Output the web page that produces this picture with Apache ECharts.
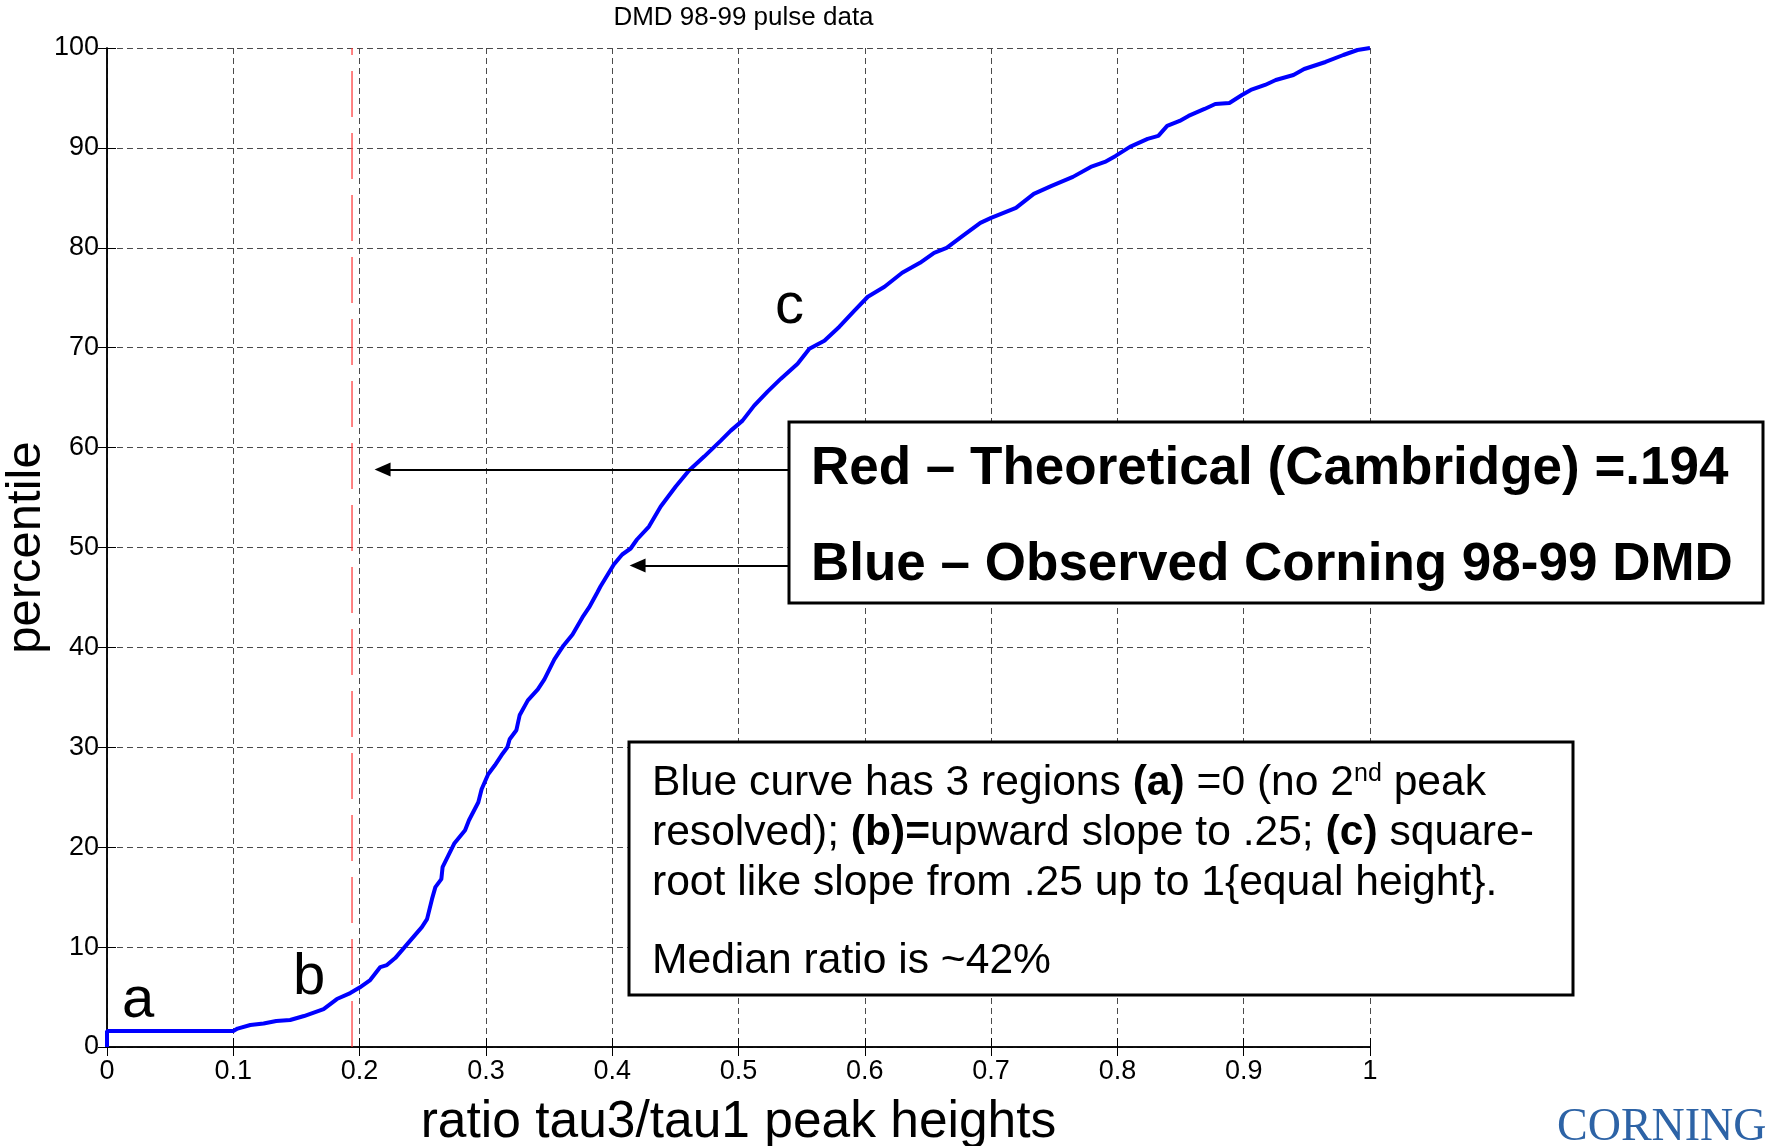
<!DOCTYPE html>
<html>
<head>
<meta charset="utf-8">
<script src="https://cdn.jsdelivr.net/npm/echarts@6/dist/echarts.min.js"></script>
<style>
  html, body { margin: 0; padding: 0; background: #ffffff; }
  #chart { width: 1765px; height: 1146px; }
</style>
</head>
<body>
<div id="chart"></div>
<script>
// ---- data ----
const ratio = [0, 0, 0.1, 0.1034, 0.1135, 0.124, 0.134, 0.145, 0.156, 0.1715, 0.182, 0.1926, 0.2, 0.2084, 0.2164, 0.2216, 0.2282, 0.2377, 0.2493, 0.2534, 0.2573, 0.26, 0.2647, 0.2657, 0.2704, 0.2751, 0.2835, 0.2866, 0.294, 0.2966, 0.3018, 0.3071, 0.3123, 0.317, 0.3188, 0.3241, 0.3267, 0.3332, 0.3411, 0.3463, 0.3542, 0.3615, 0.3686, 0.3764, 0.3817, 0.3882, 0.3907, 0.4013, 0.4079, 0.4146, 0.4196, 0.4291, 0.4384, 0.4503, 0.4608, 0.4728, 0.486, 0.4939, 0.5032, 0.5124, 0.523, 0.5336, 0.5468, 0.5561, 0.568, 0.5799, 0.5918, 0.6024, 0.6156, 0.6296, 0.6437, 0.6549, 0.6648, 0.6775, 0.6915, 0.7, 0.7197, 0.7338, 0.7479, 0.7648, 0.7789, 0.7901, 0.7986, 0.8099, 0.8239, 0.8324, 0.8394, 0.8493, 0.8563, 0.869, 0.8775, 0.8887, 0.8986, 0.9056, 0.9169, 0.9254, 0.9394, 0.9479, 0.9648, 0.9789, 0.9901, 1.0];
const percentileVals = [0, 1.6, 1.6, 1.84, 2.2, 2.35, 2.6, 2.7, 3.1, 3.8, 4.8, 5.4, 5.95, 6.7, 8.0, 8.2, 8.9, 10.3, 12.0, 12.8, 14.8, 16.0, 16.8, 18.0, 19.2, 20.4, 21.7, 22.7, 24.5, 25.8, 27.3, 28.2, 29.2, 30.0, 30.8, 31.7, 33.2, 34.7, 35.8, 36.8, 38.8, 40.2, 41.3, 43.0, 44.0, 45.5, 46.1, 48.3, 49.3, 49.9, 50.8, 52.1, 54.1, 56.1, 57.7, 59.1, 60.7, 61.7, 62.7, 64.2, 65.6, 66.9, 68.4, 69.9, 70.7, 72.1, 73.7, 75.1, 76.1, 77.5, 78.5, 79.5, 80.0, 81.2, 82.5, 83.0, 84.0, 85.4, 86.2, 87.1, 88.1, 88.6, 89.2, 90.1, 90.9, 91.2, 92.2, 92.7, 93.2, 93.9, 94.4, 94.5, 95.3, 95.8, 96.3, 96.8, 97.3, 97.9, 98.6, 99.3, 99.8, 100];
const theoreticalRatio = 0.194;
const xRange = [0, 1];
const xStep = 0.1;
const yRange = [0, 100];
const yStep = 10;
// arrows (data coords): [tailX, headX, y]
const arrowRed = [0.54, 0.2182, 57.8];
const arrowBlue = [0.54, 0.4201, 48.2];

const blueData = ratio.map((x, i) => [x, percentileVals[i]]);
const redData = [[theoreticalRatio, yRange[0]], [theoreticalRatio, yRange[1]]];

const FONT = '"Liberation Sans", Arial, Helvetica, sans-serif';
const chart = echarts.init(document.getElementById('chart'), null, { renderer: 'canvas' });

const gridLine = { show: true, lineStyle: { color: '#4a4a4a', width: 1, type: [6, 4] } };
const axisLineStyle = { show: true, lineStyle: { color: '#000000', width: 1.5 } };
const tickIn = { show: true, inside: true, length: 9, lineStyle: { color: '#000000', width: 1 } };

const option = {
  backgroundColor: '#ffffff',
  animation: false,
  title: {
    text: 'DMD 98-99 pulse data',
    left: 738.5,
    top: 0,
    textAlign: 'center',
    textStyle: { fontFamily: FONT, fontSize: 26, fontWeight: 'normal', color: '#000000' }
  },
  grid: { left: 107, top: 48, width: 1263, height: 999, show: false, containLabel: false, outerBoundsMode: 'none' },
  xAxis: [
    {
      type: 'value', min: xRange[0], max: xRange[1], interval: xStep, position: 'bottom',
      axisLine: axisLineStyle, axisTick: tickIn,
      axisLabel: { fontFamily: FONT, fontSize: 27, color: '#000000', margin: 11 },
      splitLine: gridLine,
      name: 'ratio tau3/tau1 peak heights', nameLocation: 'middle', nameGap: 50,
      nameTextStyle: { fontFamily: FONT, fontSize: 51.5, color: '#000000' }
    },
    {
      type: 'value', min: xRange[0], max: xRange[1], interval: xStep, position: 'top',
      axisLine: axisLineStyle, axisTick: tickIn, axisLabel: { show: false }, splitLine: { show: false }
    }
  ],
  yAxis: [
    {
      type: 'value', min: yRange[0], max: yRange[1], interval: yStep, position: 'left',
      axisLine: axisLineStyle, axisTick: tickIn,
      axisLabel: { fontFamily: FONT, fontSize: 27, color: '#000000', margin: 8 },
      splitLine: gridLine,
      name: 'percentile', nameLocation: 'middle', nameGap: 56, nameRotate: 90, nameMoveOverlap: false,
      nameTextStyle: { fontFamily: FONT, fontSize: 49, color: '#000000' }
    },
    {
      type: 'value', min: yRange[0], max: yRange[1], interval: yStep, position: 'right',
      axisLine: axisLineStyle, axisTick: tickIn, axisLabel: { show: false }, splitLine: { show: false }
    }
  ],
  series: [
    {
      name: 'Theoretical (Cambridge)',
      type: 'line',
      xAxisIndex: 0, yAxisIndex: 0,
      data: redData,
      showSymbol: false, symbol: 'none', silent: true,
      lineStyle: { color: '#ff3030', width: 1.2, type: [46, 16] },
      z: 3,
      markLine: {
        silent: true,
        animation: false,
        label: { show: false },
        lineStyle: { color: '#000000', width: 2, type: 'solid' },
        emphasis: { disabled: true },
        data: [
          [
            { coord: [arrowRed[0], arrowRed[2]], symbol: 'none' },
            { coord: [arrowRed[1], arrowRed[2]], symbol: 'triangle', symbolSize: [14, 16] }
          ],
          [
            { coord: [arrowBlue[0], arrowBlue[2]], symbol: 'none' },
            { coord: [arrowBlue[1], arrowBlue[2]], symbol: 'triangle', symbolSize: [14, 16] }
          ]
        ]
      }
    },
    {
      name: 'Observed Corning 98-99 DMD',
      type: 'line',
      xAxisIndex: 0, yAxisIndex: 0,
      data: blueData,
      showSymbol: false, symbol: 'none', silent: true,
      lineStyle: { color: '#0000ff', width: 4 },
      z: 4
    }
  ],
  graphic: [
    // legend-style callout box
    { type: 'rect', shape: { x: 789, y: 422, width: 974, height: 181 },
      style: { fill: '#ffffff', stroke: '#000000', lineWidth: 3 }, z: 100 },
    { type: 'text', x: 811, y: 469.5, z: 101,
      style: { text: 'Red \u2013 Theoretical (Cambridge) =.194', fontFamily: FONT, fontSize: 53, fontWeight: 'bold', fill: '#000000', textAlign: 'left', textVerticalAlign: 'middle' } },
    { type: 'text', x: 811, y: 565, z: 101,
      style: { text: 'Blue \u2013 Observed Corning 98-99 DMD', fontFamily: FONT, fontSize: 53, fontWeight: 'bold', fill: '#000000', textAlign: 'left', textVerticalAlign: 'middle' } },
    // note box
    { type: 'rect', shape: { x: 629, y: 742, width: 944, height: 253 },
      style: { fill: '#ffffff', stroke: '#000000', lineWidth: 3 }, z: 100 },
    { type: 'text', x: 652, y: 783, z: 101,
      style: {
        text: 'Blue curve has 3 regions {b|(a)} =0 (no 2{sup|nd} peak',
        fontFamily: FONT, fontSize: 42.6, fill: '#000000', textAlign: 'left', textVerticalAlign: 'middle',
        rich: {
          b: { fontFamily: FONT, fontSize: 42.6, fontWeight: 'bold', fill: '#000000' },
          sup: { fontFamily: FONT, fontSize: 25, fill: '#000000', verticalAlign: 'top' }
        }
      } },
    { type: 'text', x: 652, y: 833, z: 101,
      style: {
        text: 'resolved); {b|(b)=}upward slope to .25; {b|(c)} square-',
        fontFamily: FONT, fontSize: 42.6, fill: '#000000', textAlign: 'left', textVerticalAlign: 'middle',
        rich: { b: { fontFamily: FONT, fontSize: 42.6, fontWeight: 'bold', fill: '#000000' } }
      } },
    { type: 'text', x: 652, y: 883, z: 101,
      style: { text: 'root like slope from .25 up to 1{equal height}.', fontFamily: FONT, fontSize: 42.6, fill: '#000000', textAlign: 'left', textVerticalAlign: 'middle' } },
    { type: 'text', x: 652, y: 961, z: 101,
      style: { text: 'Median ratio is ~42%', fontFamily: FONT, fontSize: 42.6, fill: '#000000', textAlign: 'left', textVerticalAlign: 'middle' } },
    // region letters
    { type: 'text', x: 122, y: 1001, z: 50,
      style: { text: 'a', fontFamily: FONT, fontSize: 58, fill: '#000000', textAlign: 'left', textVerticalAlign: 'middle' } },
    { type: 'text', x: 293, y: 978, z: 50,
      style: { text: 'b', fontFamily: FONT, fontSize: 58, fill: '#000000', textAlign: 'left', textVerticalAlign: 'middle' } },
    { type: 'text', x: 775, y: 307, z: 50,
      style: { text: 'c', fontFamily: FONT, fontSize: 58, fill: '#000000', textAlign: 'left', textVerticalAlign: 'middle' } },
    // logo text
    { type: 'text', x: 1557, y: 1128, z: 50,
      style: { text: 'CORNING', fontFamily: '"Liberation Serif", "Times New Roman", serif', fontSize: 46, fill: '#2d63a6', textAlign: 'left', textVerticalAlign: 'middle' } }
  ]
};

chart.setOption(option);
</script>
</body>
</html>
